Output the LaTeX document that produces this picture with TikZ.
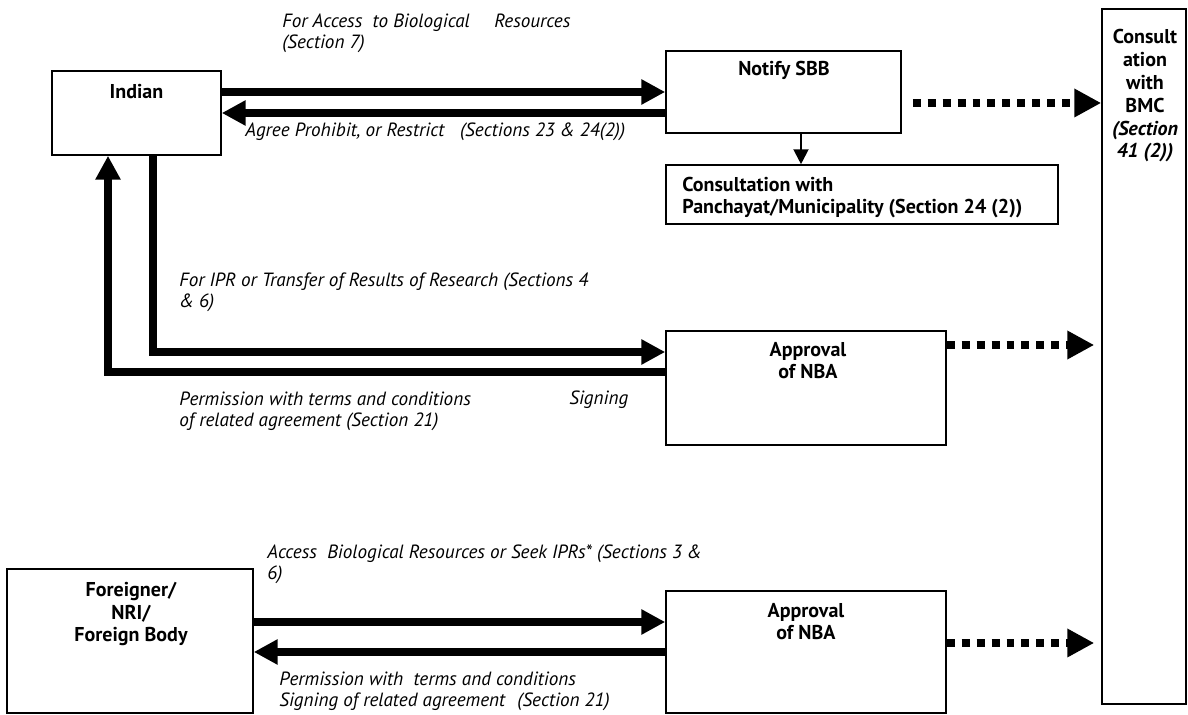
\documentclass[tikz,border=0pt]{standalone}
\usepackage{fontspec}
\setmainfont{PT Sans}
\usetikzlibrary{arrows.meta}

\begin{document}
\begin{tikzpicture}[x=0.02cm, y=-0.02cm,
		box/.style 2 args={draw, line width=0.9pt, inner sep=0pt, minimum width=#1*0.02cm, minimum height=#2*0.02cm},
		flow/.style={line width=4.5pt, -{Triangle[length=13.6pt, width=13.6pt]}},
		dots/.style={line width=4.5pt, dash pattern=on 4.5pt off 4pt, -{Triangle[length=15.3pt, width=15.3pt]}},
		link/.style={line width=1.2pt, -{Triangle[length=8.5pt, width=8.5pt]}},
		lbl/.style={font=\fontsize{10.9}{12.5}\selectfont\itshape, align=left, anchor=base west, inner sep=0pt},
		ttl/.style={font=\fontsize{11.4}{13}\selectfont\bfseries, align=center, anchor=base, inner sep=0pt}]
		\useasboundingbox (0,0) rectangle (1188,715);
	
		\node [box={169}{84}] (indian) at (136.5,113) {};
		\node [box={235}{82}] (notify) at (783.5,92) {};
		\node [box={392}{59}] (consult) at (862,194.5) {};
		\node [box={84}{695}] (bmc) at (1144,356.5) {};
		\node [box={280}{114}] (nba) at (806,388) {};
		\node [box={280}{122}] (nba2) at (806,652) {};
		\node [box={246}{144}] (foreigner) at (130,641) {};
	
		\node [ttl] (indiantxt) at (136.5,99) {Indian};
		\node [ttl] (notifytxt) at (784,76) {Notify SBB};
		\node [ttl, anchor=base west, align=left] (consulttxt) at (682,214) {Consultation with\\Panchayat/Municipality (Section 24 (2))};
		\node [ttl] (bmctxt) at (1145,158) {Consult\\ation\\with\\BMC\\\textit{(Section}\\\textit{41 (2))}};
		\node [ttl] (nbatxt) at (808,379) {Approval\\of NBA};
		\node [ttl] (nba2txt) at (806,640) {Approval\\of NBA};
		\node [ttl] (foreignertxt) at (131,642) {Foreigner/\\NRI/\\Foreign Body};
	
		\draw[flow] (notify.west -| indian.east) -- (notify.west);
		\draw[flow] (indian.east -| notify.west) -- (indian.east);
		\draw[link] ([xshift=0.35cm]notify.south) -- ([xshift=0.35cm]notify.south |- consult.north);
		\draw[dots] ([xshift=0.22cm, yshift=-0.22cm]notify.east) -- ([yshift=-0.22cm]notify.east -| bmc.west);
	
		\draw[flow] ([xshift=0.33cm]indian.south) |- ([yshift=0.72cm]nba.west);
		\draw[flow] ([yshift=0.32cm]nba.west) -| ([xshift=-0.57cm]indian.south);
		\draw[dots] ([yshift=0.86cm]nba.east) -- ([xshift=-0.14cm, yshift=0.86cm]nba.east -| bmc.west);
	
		\draw[flow] ([yshift=0.6cm]nba2.west -| foreigner.east) -- ([yshift=0.6cm]nba2.west);
		\draw[flow] (nba2.west) -- (nba2.west -| foreigner.east);
		\draw[dots] ([yshift=0.18cm]nba2.east) -- ([xshift=-0.14cm, yshift=0.18cm]nba2.east -| bmc.west);
	
		\node [lbl] (accesslbl) at (282,49) {For Access\ \ to Biological\hspace{14pt}Resources\\(Section 7)};
		\node [lbl] (agreelbl) at (245,137) {Agree Prohibit, or Restrict\hspace{9pt}(Sections 23 \& 24(2))};
		\node [lbl] (iprlbl) at (179,308) {For IPR or Transfer of Results of Research (Sections 4\\\& 6)};
		\node [lbl] (permlbl) at (179,427) {Permission with terms and conditions\\of related agreement (Section 21)};
		\node [lbl] (signlbl) at (569,405) {Signing};
		\node [lbl] (seeklbl) at (267,580) {Access\ \ Biological Resources or Seek IPRs* (Sections 3 \&\\6)};
		\node [lbl] (perm2lbl) at (279,707) {Permission with\ \ terms and conditions\\Signing of related agreement\hspace{7pt}(Section 21)};
	\end{tikzpicture}
\end{document}
